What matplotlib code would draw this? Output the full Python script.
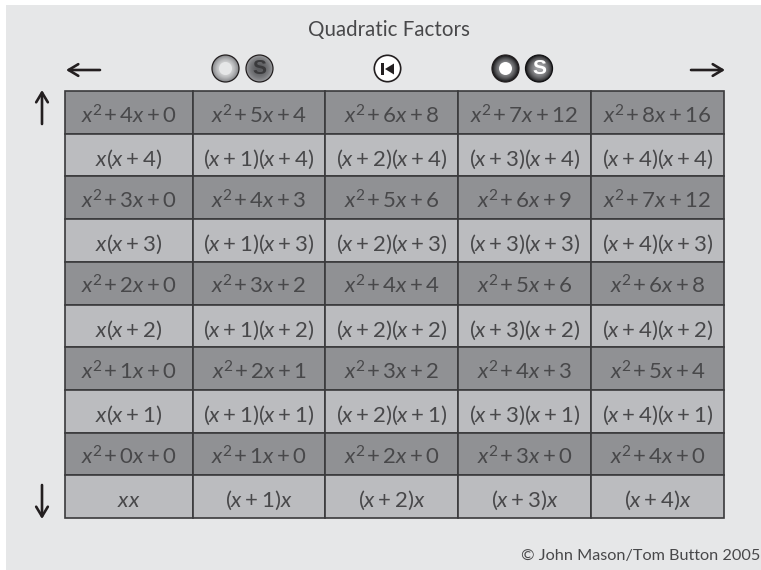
import numpy as np
import matplotlib
matplotlib.use('Agg')
import matplotlib.pyplot as plt
from matplotlib.patches import Circle, Rectangle, Polygon

plt.rcParams['font.family'] = 'Lato'
plt.rcParams['mathtext.fontset'] = 'custom'
plt.rcParams['mathtext.rm'] = 'Lato'
plt.rcParams['mathtext.it'] = 'Lato:italic'
plt.rcParams['mathtext.default'] = 'it'

# table text, top row to bottom row
row_0 = ['x^2+4x+0', 'x^2+5x+4', 'x^2+6x+8', 'x^2+7x+12', 'x^2+8x+16']
row_1 = ['x(x+4)', '(x+1)(x+4)', '(x+2)(x+4)', '(x+3)(x+4)', '(x+4)(x+4)']
row_2 = ['x^2+3x+0', 'x^2+4x+3', 'x^2+5x+6', 'x^2+6x+9', 'x^2+7x+12']
row_3 = ['x(x+3)', '(x+1)(x+3)', '(x+2)(x+3)', '(x+3)(x+3)', '(x+4)(x+3)']
row_4 = ['x^2+2x+0', 'x^2+3x+2', 'x^2+4x+4', 'x^2+5x+6', 'x^2+6x+8']
row_5 = ['x(x+2)', '(x+1)(x+2)', '(x+2)(x+2)', '(x+3)(x+2)', '(x+4)(x+2)']
row_6 = ['x^2+1x+0', 'x^2+2x+1', 'x^2+3x+2', 'x^2+4x+3', 'x^2+5x+4']
row_7 = ['x(x+1)', '(x+1)(x+1)', '(x+2)(x+1)', '(x+3)(x+1)', '(x+4)(x+1)']
row_8 = ['x^2+0x+0', 'x^2+1x+0', 'x^2+2x+0', 'x^2+3x+0', 'x^2+4x+0']
row_9 = ['xx', '(x+1)x', '(x+2)x', '(x+3)x', '(x+4)x']
rows = [row_0, row_1, row_2, row_3, row_4, row_5, row_6, row_7, row_8, row_9]

col_edges = [65, 193, 325, 458, 591, 724]
table_top = 91
table_bottom = 518
row_h = (table_bottom - table_top) / len(rows)

dark = '#909194'
light = '#bbbcbf'
line = '#3a3a3c'
ink = '#48484a'


def button(ax, cx, cy, outer, inner, ring='#231f20', letter=None, letter_col='white', core='white'):
    # shaded round button
    r = 13.5
    xs = np.linspace(-1, 1, 120)
    xx, yy = np.meshgrid(xs, xs)
    d = np.sqrt(xx ** 2 + yy ** 2)
    shade = np.clip(d, 0, 1) ** 2
    c0 = np.array(matplotlib.colors.to_rgb(inner))
    c1 = np.array(matplotlib.colors.to_rgb(outer))
    img = c0 + (c1 - c0) * shade[..., None]
    im = ax.imshow(img, extent=(cx - r, cx + r, cy + r, cy - r), zorder=3, interpolation='bilinear')
    im.set_clip_path(Circle((cx, cy), r, transform=ax.transData))
    ax.add_patch(Circle((cx, cy), r, fc='none', ec=ring, lw=0.9, zorder=4))
    if letter:
        ax.text(cx, cy + 0.5, letter, ha='center', va='center', fontsize=15, fontweight='bold',
                color=letter_col, family='Liberation Sans', zorder=5)
    else:
        ax.add_patch(Circle((cx, cy), 6.5, fc=core, ec='none', zorder=5))


fig = plt.figure(figsize=(7.61, 5.70), dpi=100, facecolor='white')
ax = fig.add_axes([0, 0, 1, 1])
ax.axis('off')

ax.add_patch(Rectangle((6, 5), 755, 565, fc='#e6e7e8', ec='none', zorder=0))

ax.text(388.5, 30, 'Quadratic Factors', ha='center', va='center', fontsize=14.8, color=ink)
ax.text(760, 556, '\u00a9 John Mason/Tom Button 2005', ha='right', va='center', fontsize=11.7, color=ink)

# cells
for i, row in enumerate(rows):
    y0 = table_top + i * row_h
    for j, label in enumerate(row):
        x0 = col_edges[j]
        w = col_edges[j + 1] - x0
        fc = dark if i % 2 == 0 else light
        ax.add_patch(Rectangle((x0, y0), w, row_h, fc=fc, ec=line, lw=1.2, zorder=1))
        ax.text(x0 + w / 2, y0 + 32, '$' + label.replace('^2', '^2\\!') + '$', ha='center', va='baseline',
                fontsize=16, color=ink, zorder=2)

# navigation arrows
arrow = dict(arrowstyle='->,head_length=0.7,head_width=0.42', lw=1.9, color='#231f20', shrinkA=0, shrinkB=0)
ax.annotate('', xy=(66, 70), xytext=(100, 70), arrowprops=arrow)
ax.annotate('', xy=(725, 70), xytext=(691, 70), arrowprops=arrow)
ax.annotate('', xy=(42, 90), xytext=(42, 124), arrowprops=arrow)
ax.annotate('', xy=(42, 519), xytext=(42, 485), arrowprops=arrow)

# buttons
button(ax, 225.5, 68.5, '#808184', '#e6e7e8', core='#e6e7e8')
button(ax, 259.5, 68.5, '#9a9b9e', '#5a5b5e', letter='S', letter_col='#3a3a3c')
button(ax, 505.5, 68.5, '#111113', '#a5a6a9')
button(ax, 539, 68.5, '#1c1c1e', '#a5a6a9', ring='#111113', letter='S', letter_col='white')

ax.add_patch(Circle((387.5, 68.5), 13.2, fc='white', ec='#231f20', lw=1.2, zorder=4))
ax.add_patch(Rectangle((381, 63), 3, 12, fc='#231f20', ec='none', zorder=5))
ax.add_patch(Polygon([[385, 69], [394, 63.5], [394, 74.5]], closed=True, fc='#231f20', ec='none', zorder=5))

ax.set_xlim(0, 761)
ax.set_ylim(570, 0)
ax.set_aspect('auto')
fig.savefig('out.png', dpi=100)
